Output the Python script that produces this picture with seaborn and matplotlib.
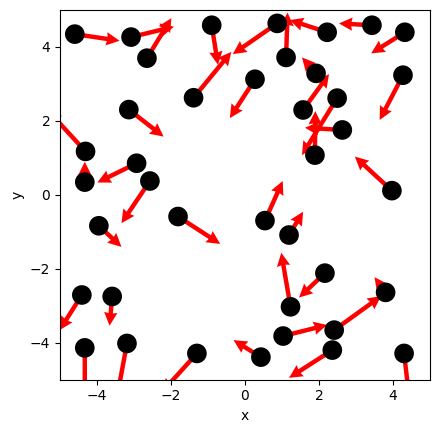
import numpy as np
import pandas as pd
import matplotlib
matplotlib.use("Agg")
import matplotlib.pyplot as plt
import seaborn as sns

# point positions
x = [-4.60, -3.08, -2.65, -0.90, -1.39, 0.87, 1.11, 2.22, 3.43, 4.32,
     0.27, 1.92, 1.57, 2.49, 2.63, 1.89, 4.27, -3.14, -4.31, -4.33,
     -2.93, -2.57, -3.95, -1.81, 3.97, 0.54, 1.19, -4.41, -3.59, 2.16,
     3.80, 1.23, -4.33, -3.19, -1.30, 0.43, 1.03, 2.41, 2.36, 4.30]
y = [4.34, 4.26, 3.69, 4.58, 2.62, 4.63, 3.71, 4.39, 4.58, 4.39,
     3.12, 3.28, 2.29, 2.61, 1.75, 1.07, 3.23, 2.30, 1.17, 0.34,
     0.85, 0.37, -0.84, -0.59, 0.11, -0.70, -1.09, -2.71, -2.75, -2.12,
     -2.64, -3.03, -4.14, -4.02, -4.29, -4.39, -3.82, -3.66, -4.20, -4.29]
# arrow components
u = [1.21, 1.16, 0.66, 0.17, 1.02, -1.20, 0.04, -1.01, -0.89, -0.91,
     -0.68, -0.38, 0.70, -0.95, -1.01, 0.01, -0.63, 0.94, -1.01, 0.00,
     -1.06, -0.77, 0.61, 1.14, -1.00, 0.48, 0.38, -0.60, -0.07, -0.70,
     -0.30, -0.25, 0.00, -0.26, -0.95, -0.74, 1.19, 1.27, -1.17, 0.13]
v = [-0.18, 0.28, 1.08, -1.07, 1.24, -0.83, 1.21, 0.33, 0.05, -0.57,
     -1.05, 0.43, 0.97, -1.54, 0.06, 1.19, -1.21, -0.73, 1.10, 0.55,
     -0.52, -1.14, -0.57, -0.74, 0.92, 1.07, 0.63, -0.95, -0.79, -0.66,
     0.41, 1.46, -1.25, -1.40, -1.05, 0.46, 0.30, 0.92, -0.75, -1.13]

df = pd.DataFrame({'x': x, 'y': y, 'u': u, 'v': v})

fig = plt.figure(figsize=(4.39, 4.32), dpi=100)
ax = fig.add_axes([60 / 439, 52.3 / 432, 370 / 439, 370 / 432])

ax.quiver(df['x'], df['y'], df['u'], df['v'], color='red',
          angles='xy', scale_units='xy', scale=1,
          width=0.012, headwidth=3, headlength=3, headaxislength=2.8, zorder=2)
sns.scatterplot(data=df, x='x', y='y', color='black', s=200,
                edgecolor='none', ax=ax, zorder=3)

ax.set_xlim(-5, 5)
ax.set_ylim(-5, 5)
ax.set_xticks([-4, -2, 0, 2, 4])
ax.set_yticks([-4, -2, 0, 2, 4])
ax.set_xlabel('x')
ax.set_ylabel('y')

plt.savefig('out.png', dpi=100)
